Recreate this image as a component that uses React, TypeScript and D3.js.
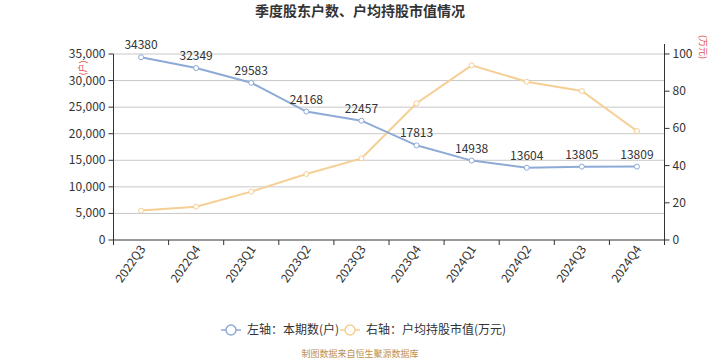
import React from "react";
import * as d3 from "d3";

const categories = ["2022Q3","2022Q4","2023Q1","2023Q2","2023Q3","2023Q4","2024Q1","2024Q2","2024Q3","2024Q4"];
const holders = [34380,32349,29583,24168,22457,17813,14938,13604,13805,13809];
const avgValue = [15.8,17.9,26.0,35.5,43.9,73.5,93.9,85.1,80.1,58.6];
const leftTicks = [0,5000,10000,15000,20000,25000,30000,35000];
const rightTicks = [0,20,40,60,80,100];

const W = 720, H = 360;
const L = 113.5, R = 664.5, T = 54, B = 240;
const blue = "#8eaad6";
const orange = "#f5cf93";
const font = "'Noto Sans CJK SC', 'Noto Sans', sans-serif";

export default function App() {
  const x = d3.scaleBand().domain(categories).range([L, R]);
  const cx = (c: string) => (x(c) ?? 0) + x.bandwidth() / 2;
  const yL = d3.scaleLinear().domain([0, 35000]).range([B, T]);
  const yR = d3.scaleLinear().domain([0, 100]).range([B, T]);
  const fmt = d3.format(",");
  const lineL = d3.line<number>().x((_, i) => cx(categories[i])).y(d => yL(d));
  const lineR = d3.line<number>().x((_, i) => cx(categories[i])).y(d => yR(d));

  return (
    <svg width={W} height={H} style={{ position: "absolute", left: 0, top: 0, fontFamily: font }}>
      <rect width={W} height={H} fill="#fff" />
      <text x={360} y={16} textAnchor="middle" fontSize={14} fontWeight="bold" fill="#333">季度股东户数、户均持股市值情况</text>
      {leftTicks.map(t => (
        <g key={t}>
          {t > 0 && <line x1={L} x2={R} y1={yL(t)} y2={yL(t)} stroke="#c8c8c8" strokeWidth={1} />}
          <line x1={L - 5} x2={L} y1={yL(t)} y2={yL(t)} stroke="#333" />
          <text x={L - 8} y={yL(t) + 4} textAnchor="end" fontSize={12} fill="#333">{fmt(t)}</text>
        </g>
      ))}
      {rightTicks.map(t => (
        <g key={t}>
          <line x1={R} x2={R + 5} y1={yR(t)} y2={yR(t)} stroke="#333" />
          <text x={R + 8} y={yR(t) + 4} textAnchor="start" fontSize={12} fill="#333">{t}</text>
        </g>
      ))}
      {categories.map((c, i) => (
        <line key={"xt" + c} x1={(x(c) ?? 0) + (i === 0 ? 0 : 0)} x2={x(c) ?? 0} y1={B} y2={B + 5} stroke="#333" />
      ))}
      <line x1={R} x2={R} y1={B} y2={B + 5} stroke="#333" />
      <line x1={L} x2={L} y1={T} y2={B + 5} stroke="#333" />
      <line x1={R} x2={R} y1={T - 10} y2={B + 5} stroke="#333" />
      <line x1={L} x2={R} y1={B} y2={B} stroke="#333" />
      <text transform={`translate(86,68) rotate(-90)`} textAnchor="middle" fontSize={9} fill="#e05050">(户)</text>
      <text transform={`translate(700,47) rotate(90)`} textAnchor="middle" fontSize={9} fill="#e05050">(万元)</text>
      {categories.map(c => (
        <text key={c} transform={`translate(${cx(c) + 5},${B + 9}) rotate(-55)`} textAnchor="end" fontSize={12} fill="#333">{c}</text>
      ))}
      <path d={lineR(avgValue) ?? ""} fill="none" stroke={orange} strokeWidth={2} />
      <path d={lineL(holders) ?? ""} fill="none" stroke={blue} strokeWidth={2} />
      {avgValue.map((v, i) => (
        <circle key={"r" + i} cx={cx(categories[i])} cy={yR(v)} r={2.5} fill="#fff" stroke={orange} strokeWidth={1} />
      ))}
      {holders.map((v, i) => (
        <g key={"l" + i}>
          <circle cx={cx(categories[i])} cy={yL(v)} r={2.5} fill="#fff" stroke={blue} strokeWidth={1} />
          <text x={cx(categories[i])} y={yL(v) - 8} textAnchor="middle" fontSize={12} fill="#333">{v}</text>
        </g>
      ))}
      <g>
        <line x1={221} x2={241} y1={330} y2={330} stroke={blue} strokeWidth={1.5} />
        <circle cx={231} cy={330} r={5} fill="#fff" stroke={blue} strokeWidth={1.5} />
        <text x={247} y={334} fontSize={12} fill="#333">左轴：本期数(户)</text>
        <line x1={340} x2={360} y1={330} y2={330} stroke={orange} strokeWidth={1.5} />
        <circle cx={350} cy={330} r={5} fill="#fff" stroke={orange} strokeWidth={1.5} />
        <text x={366} y={334} fontSize={12} fill="#333">右轴：户均持股市值(万元)</text>
      </g>
      <text x={360} y={357} textAnchor="middle" fontSize={9} fill="#c09050">制图数据来自恒生聚源数据库</text>
    </svg>
  );
}
